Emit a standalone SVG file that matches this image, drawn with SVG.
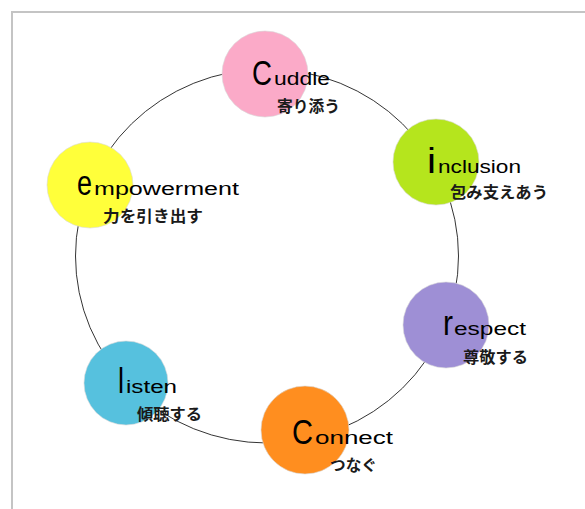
<svg xmlns="http://www.w3.org/2000/svg" width="585" height="509" viewBox="0 0 585 509">
<style>
.node{stroke:#d8d8d8;stroke-width:0.6}
.big{font-family:"Liberation Sans","Noto Sans",sans-serif;font-size:35px;fill:#000}
.sm{font-family:"Liberation Sans","Noto Sans",sans-serif;font-size:17.5px;fill:#000}
.jp{font-family:"Noto Sans CJK JP","Noto Sans CJK SC",sans-serif;font-size:15.5px;font-weight:bold;fill:#1a1a1a}
</style>
<rect width="585" height="509" fill="#fff"/>
<path d="M12 509 V12 H585" fill="none" stroke="#c4c4c4" stroke-width="2"/>
<g id="connectors">
<ellipse cx="267" cy="256" rx="191.5" ry="187" fill="none" stroke="#000" stroke-width="0.8"/>
</g>
<g id="cuddle">
<circle class="node" cx="265" cy="74" r="43" fill="#fbaac8"/>
<text class="big" x="252" y="85" textLength="20" lengthAdjust="spacingAndGlyphs">C</text>
<text class="sm" x="274" y="85" textLength="56" lengthAdjust="spacingAndGlyphs">uddle</text>
<text class="jp" x="277" y="112" textLength="63" lengthAdjust="spacingAndGlyphs">寄り添う</text>
</g>
<g id="inclusion">
<circle class="node" cx="436" cy="162" r="43" fill="#b5e51d"/>
<text class="big" x="427" y="173" textLength="9" lengthAdjust="spacingAndGlyphs">i</text>
<text class="sm" x="438" y="173" textLength="83" lengthAdjust="spacingAndGlyphs">nclusion</text>
<text class="jp" x="450" y="198" textLength="98" lengthAdjust="spacingAndGlyphs">包み支えあう</text>
</g>
<g id="empowerment">
<circle class="node" cx="90" cy="185" r="43" fill="#ffff3a"/>
<text class="big" x="77" y="195" textLength="15" lengthAdjust="spacingAndGlyphs">e</text>
<text class="sm" x="94" y="195" textLength="145" lengthAdjust="spacingAndGlyphs">mpowerment</text>
<text class="jp" x="103" y="222" textLength="100" lengthAdjust="spacingAndGlyphs">力を引き出す</text>
</g>
<g id="respect">
<circle class="node" cx="446" cy="325" r="43" fill="#9e8fd5"/>
<text class="big" x="443" y="335" textLength="10" lengthAdjust="spacingAndGlyphs">r</text>
<text class="sm" x="454" y="335" textLength="72" lengthAdjust="spacingAndGlyphs">espect</text>
<text class="jp" x="463" y="363" textLength="65" lengthAdjust="spacingAndGlyphs">尊敬する</text>
</g>
<g id="listen">
<circle class="node" cx="126" cy="383" r="42" fill="#56c1de"/>
<text class="big" x="118" y="393" textLength="6" lengthAdjust="spacingAndGlyphs">l</text>
<text class="sm" x="126" y="393" textLength="51" lengthAdjust="spacingAndGlyphs">isten</text>
<text class="jp" x="137" y="420" textLength="65" lengthAdjust="spacingAndGlyphs">傾聴する</text>
</g>
<g id="connect">
<circle class="node" cx="305" cy="430" r="44" fill="#ff8e1f"/>
<text class="big" x="292" y="444" textLength="21" lengthAdjust="spacingAndGlyphs">C</text>
<text class="sm" x="315" y="444" textLength="78" lengthAdjust="spacingAndGlyphs">onnect</text>
<text class="jp" x="330" y="471" textLength="47" lengthAdjust="spacingAndGlyphs">つなぐ</text>
</g>
</svg>
